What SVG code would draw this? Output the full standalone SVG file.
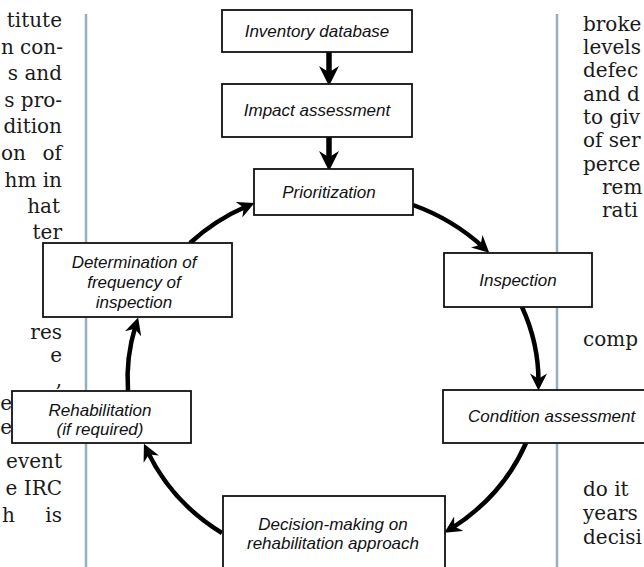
<svg xmlns="http://www.w3.org/2000/svg" width="644" height="567" viewBox="0 0 644 567">
<style>
.bg{font-family:"DejaVu Serif","Liberation Serif",serif;font-size:20px;fill:#1a1a1a}
.rule{stroke:#97aec0;stroke-width:2.5;fill:none}
.box{fill:#fff;stroke:#111;stroke-width:1.8}
.lbl{font-family:"Liberation Sans",Arial,sans-serif;font-style:italic;font-size:17px;fill:#111;text-anchor:middle}
.arr{fill:none;stroke:#000;stroke-width:4.5}
.sarr{fill:none;stroke:#000;stroke-width:5.5}
</style>
<defs>
<marker id="ah" viewBox="0 0 16 16" refX="8" refY="8" markerWidth="17" markerHeight="17" markerUnits="userSpaceOnUse" orient="auto">
<path d="M0,0 L16,8 L0,16 L5,8 z" fill="#000"/>
</marker>
<marker id="ahs" viewBox="0 0 16 16" refX="8" refY="8" markerWidth="20" markerHeight="20" markerUnits="userSpaceOnUse" orient="auto">
<path d="M0,0 L16,8 L0,16 L5,8 z" fill="#000"/>
</marker>
</defs>
<rect width="644" height="567" fill="#fff"/>
<g id="page-text">
<line class="rule" x1="86" y1="14" x2="86" y2="567"/>
<line class="rule" x1="557" y1="14" x2="557" y2="567"/>
<g class="bg" text-anchor="end">
<text x="62" y="27">titute</text>
<text x="63" y="54">n con-</text>
<text x="62" y="80">s and</text>
<text x="62" y="107">s pro-</text>
<text x="62" y="133">dition</text>
<text x="26" y="160">on</text>
<text x="62" y="160">of</text>
<text x="62" y="187">hm in</text>
<text x="60" y="213">hat</text>
<text x="62" y="239">ter</text>
<text x="62" y="339">res</text>
<text x="62" y="362">e</text>
<text x="62" y="386">,</text>
<text x="12" y="410">e</text>
<text x="12" y="434">e</text>
<text x="62" y="468">event</text>
<text x="62" y="495">e IRC</text>
<text x="15" y="522">h</text>
<text x="62" y="522">is</text>
</g>
<g class="bg">
<text x="583" y="31">broke</text>
<text x="583" y="54">levels</text>
<text x="583" y="77">defec</text>
<text x="583" y="101">and d</text>
<text x="583" y="124">to giv</text>
<text x="583" y="147">of ser</text>
<text x="583" y="171">perce</text>
<text x="602" y="194">rem</text>
<text x="602" y="217">rati</text>
<text x="583" y="346">comp</text>
<text x="583" y="496">do it</text>
<text x="583" y="520">years</text>
<text x="583" y="544">decisi</text>
</g>
</g>
<g id="connectors">
<path class="sarr" d="M329,52 L329,76" marker-end="url(#ahs)"/>
<path class="sarr" d="M329,137 L329,161" marker-end="url(#ahs)"/>
<path class="arr" d="M413,205 A205 190 0 0 1 483,247" marker-end="url(#ah)"/>
<path class="arr" d="M522,307 A205 190 0 0 1 538.5,382" marker-end="url(#ah)"/>
<path class="arr" d="M526,443 A205 190 0 0 1 451.5,528.3" marker-end="url(#ah)"/>
<path class="arr" d="M222,533 A205 190 0 0 1 147.6,451.5" marker-end="url(#ah)"/>
<path class="arr" d="M128,391 A205 190 0 0 1 135.6,325.7" marker-end="url(#ah)"/>
<path class="arr" d="M190,243 A205 190 0 0 1 246.7,206.3" marker-end="url(#ah)"/>
</g>
<g id="inventory">
<rect class="box" x="222" y="10" width="190" height="42"/>
<text class="lbl" x="317" y="37">Inventory database</text>
</g>
<g id="impact">
<rect class="box" x="222" y="84" width="190" height="53"/>
<text class="lbl" x="317" y="116">Impact assessment</text>
</g>
<g id="prioritization">
<rect class="box" x="254" y="169" width="159" height="46"/>
<text class="lbl" x="329" y="198">Prioritization</text>
</g>
<g id="inspection">
<rect class="box" x="444" y="253" width="148" height="54"/>
<text class="lbl" x="518" y="286">Inspection</text>
</g>
<g id="condition">
<rect class="box" x="443" y="390" width="222" height="53"/>
<text class="lbl" x="468" y="422" style="text-anchor:start">Condition assessment</text>
</g>
<g id="decision">
<rect class="box" x="223" y="496" width="222" height="80"/>
<text class="lbl" x="333" y="530">Decision-making on</text>
<text class="lbl" x="333" y="549">rehabilitation approach</text>
</g>
<g id="rehabilitation">
<rect class="box" x="12" y="391" width="179" height="52"/>
<text class="lbl" x="100" y="416">Rehabilitation</text>
<text class="lbl" x="100" y="435">(if required)</text>
</g>
<g id="determination">
<rect class="box" x="43" y="243" width="189" height="74"/>
<text class="lbl" x="134" y="268">Determination of</text>
<text class="lbl" x="134" y="288">frequency of</text>
<text class="lbl" x="134" y="308">inspection</text>
</g>
</svg>
